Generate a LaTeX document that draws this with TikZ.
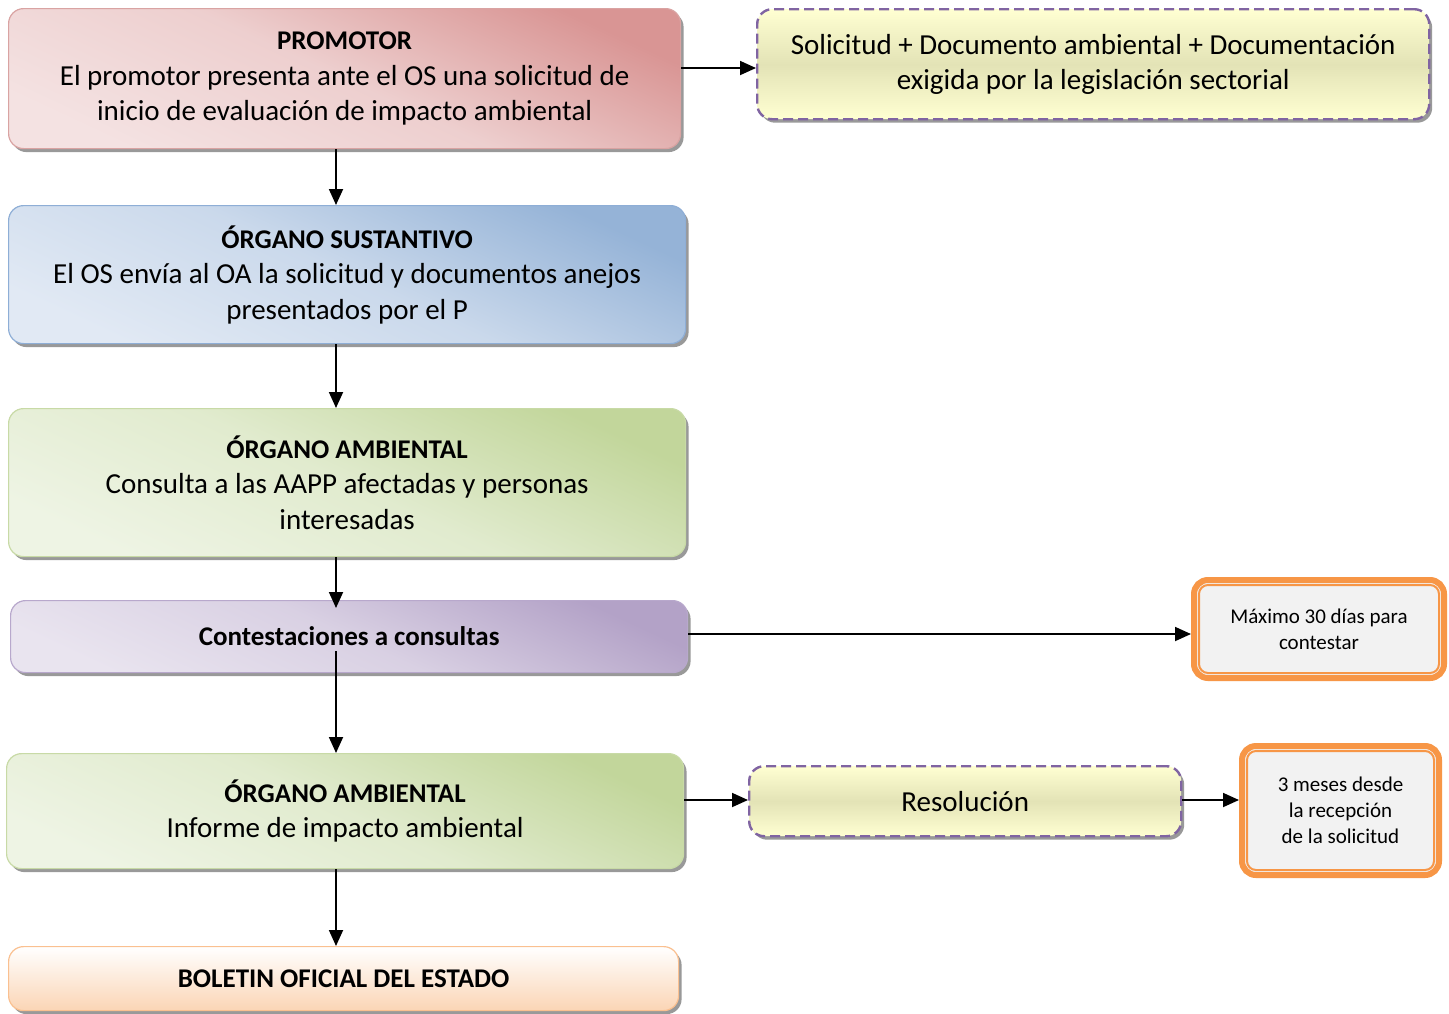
\documentclass[tikz,border=0pt]{standalone}
\usepackage{fontspec}
\setmainfont{Carlito}
\usetikzlibrary{arrows.meta,shadows,calc}
\definecolor{redD}{HTML}{D99594}
\definecolor{redL}{HTML}{F4E2E2}
\definecolor{redB}{HTML}{D9A3A2}
\definecolor{bluD}{HTML}{95B3D7}
\definecolor{bluL}{HTML}{E1E9F4}
\definecolor{bluB}{HTML}{8EAED6}
\definecolor{grnD}{HTML}{C2D69B}
\definecolor{grnL}{HTML}{EEF4E4}
\definecolor{grnB}{HTML}{C8DAA6}
\definecolor{purD}{HTML}{B3A2C7}
\definecolor{purL}{HTML}{E9E4EF}
\definecolor{purB}{HTML}{B8A8CC}
\definecolor{pchD}{HTML}{FBD5B5}
\definecolor{pchB}{HTML}{FAC090}
\definecolor{ylwL}{HTML}{FFFFD2}
\definecolor{ylwD}{HTML}{E3E3B6}
\definecolor{dashP}{HTML}{8064A2}
\definecolor{orng}{HTML}{F79646}
\definecolor{grayIn}{HTML}{F2F2F2}
\tikzset{
  box/.style={rounded corners=15pt, align=center, inner sep=0pt, anchor=north west,
    font=\fontsize{29}{35.5}\selectfont, line width=1.2pt,
    drop shadow={shadow xshift=3pt, shadow yshift=-3.5pt, fill=black!50, opacity=0.8}},
  redbox/.style={box, draw=redB, top color=redD, bottom color=redL, middle color=redL!75!redD, shading angle=-25},
  blubox/.style={box, draw=bluB, top color=bluD, bottom color=bluL, middle color=bluL!70!bluD, shading angle=-25},
  grnbox/.style={box, draw=grnB, top color=grnD, bottom color=grnL, middle color=grnL!70!grnD, shading angle=-25},
  purbox/.style={box, draw=purB, top color=purD, bottom color=purL, middle color=purL!70!purD, shading angle=-25},
  pchbox/.style={box, draw=pchB, top color=white, bottom color=pchD},
  ylwbox/.style={box, draw=dashP, line width=2.4pt, dash pattern=on 10pt off 5pt,
    top color=ylwL, bottom color=ylwL, middle color=ylwD},
  orbox/.style={rounded corners=14pt, align=center, inner sep=0pt, anchor=north west,
    draw=orng, line width=6pt, fill=grayIn, font=\fontsize{21}{26}\selectfont},
  conn/.style={line width=1.8pt, -{Triangle[length=16pt,width=14pt]}},
}
\newcommand{\ttlfont}{\fontsize{27}{35.5}\selectfont\bfseries}
\newcommand{\innerframe}[1]{\draw[orng, line width=2pt, rounded corners=9pt]
  ($(#1.north west)+(8,8)$) rectangle ($(#1.south east)+(-8,-8)$);}
\begin{document}
\begin{tikzpicture}[x=1pt,y=-1pt]
\useasboundingbox (0,0) rectangle (1449,1013);
\fill[white] (0,0) rectangle (1449,1013);

\node[redbox, minimum width=672pt, minimum height=140pt] (p) at (8,8)
  {{\ttlfont PROMOTOR}\\El promotor presenta ante el OS una solicitud de\\inicio de evaluación de impacto ambiental};
\node[ylwbox, minimum width=672pt, minimum height=110pt] (s) at (756,8)
  {Solicitud + Documento ambiental + Documentación\\exigida por la legislación sectorial};
\node[blubox, minimum width=677pt, minimum height=138pt] (os) at (8,205)
  {{\ttlfont ÓRGANO SUSTANTIVO}\\El OS envía al OA la solicitud y documentos anejos\\presentados por el P};
\node[grnbox, minimum width=677pt, minimum height=148pt] (oa) at (8,408)
  {{\ttlfont ÓRGANO AMBIENTAL}\\Consulta a las AAPP afectadas y personas\\interesadas};
\node[purbox, minimum width=677pt, minimum height=72pt] (c) at (10,600)
  {\ttlfont Contestaciones a consultas};
\node[orbox, minimum width=250pt, minimum height=98pt] (m) at (1191,577)
  {Máximo 30 días para\\contestar};
\innerframe{m}
\node[grnbox, minimum width=677pt, minimum height=115pt] (oa2) at (6,753)
  {{\ttlfont ÓRGANO AMBIENTAL}\\Informe de impacto ambiental};
\node[ylwbox, minimum width=432pt, minimum height=70pt] (r) at (748,765)
  {Resolución};
\node[orbox, minimum width=197pt, minimum height=129pt] (t) at (1239,743)
  {3 meses desde\\la recepción\\de la solicitud};
\innerframe{t}
\node[pchbox, minimum width=670pt, minimum height=64pt] (b) at (8,946)
  {\ttlfont BOLETIN OFICIAL DEL ESTADO};

\coordinate (ax) at (336,0);
\coordinate (y1) at (0,68);
\coordinate (y2) at (0,634);
\coordinate (y3) at (0,800);
\draw[conn] (p.east |- y1) -- (s.west |- y1);
\draw[conn] (p.south -| ax) -- (os.north -| ax);
\draw[conn] (os.south -| ax) -- (oa.north -| ax);
\draw[conn] (oa.south -| ax) -- ($(c.north -| ax)+(0,8)$);
\draw[conn] ($(c.south -| ax)+(0,-22)$) -- (oa2.north -| ax);
\draw[conn] (c.east |- y2) -- (m.west |- y2);
\draw[conn] (oa2.east |- y3) -- (r.west |- y3);
\draw[conn] (r.east |- y3) -- (t.west |- y3);
\draw[conn] (oa2.south -| ax) -- (b.north -| ax);
\end{tikzpicture}
\end{document}
